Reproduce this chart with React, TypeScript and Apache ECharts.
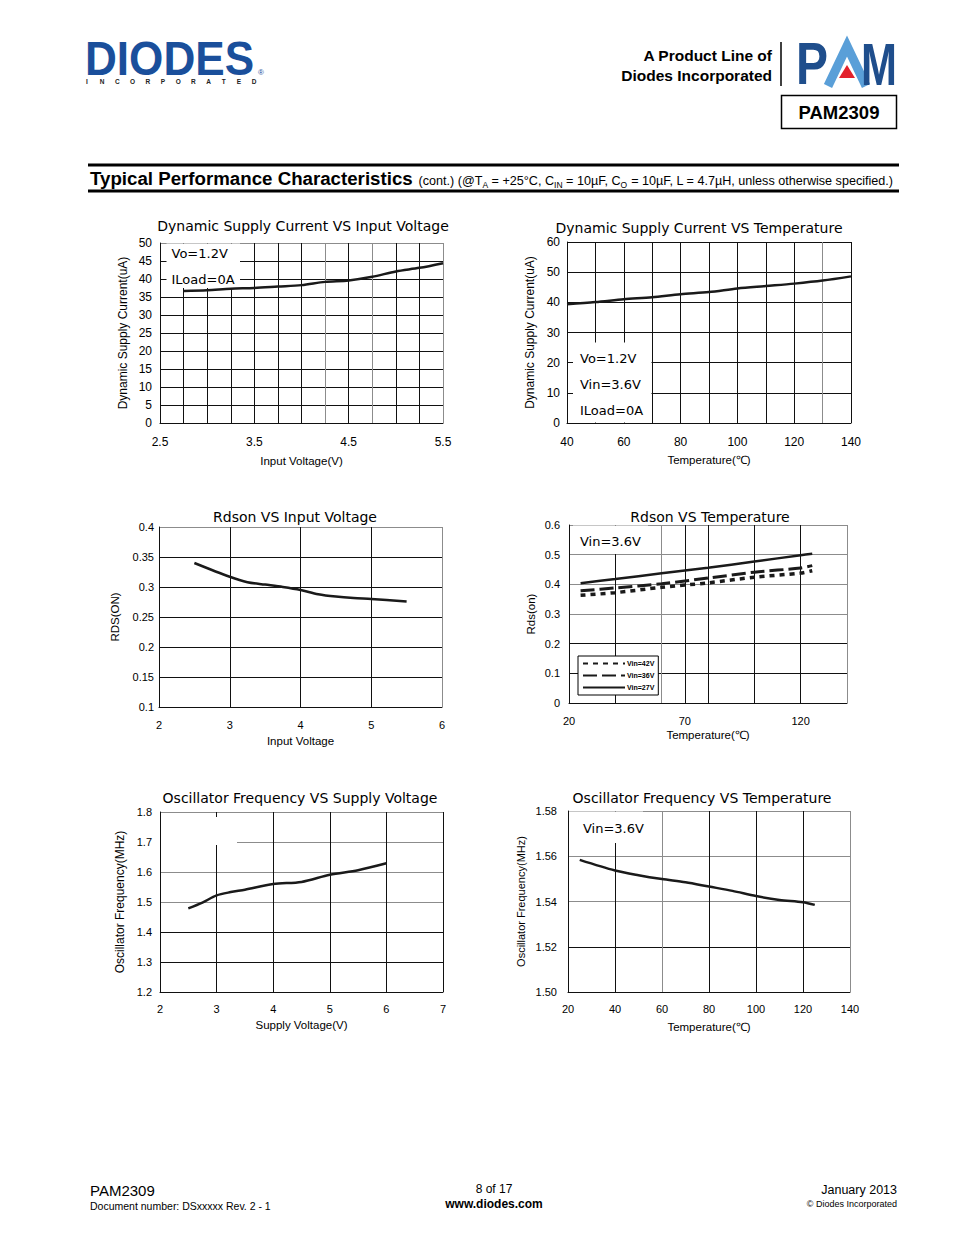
import React, { useEffect, useRef } from 'react';
import * as echarts from 'echarts';

// ---------- data ----------
// Chart 1: Dynamic Supply Current VS Input Voltage
const vinV = [2.75, 3.0, 3.25, 3.5, 3.75, 4.0, 4.25, 4.5, 4.75, 5.0, 5.25, 5.5];
const iqVin = [36.7, 36.9, 37.3, 37.5, 37.9, 38.3, 39.2, 39.6, 40.6, 42.1, 43.1, 44.4];
// Chart 2: Dynamic Supply Current VS Temperature
const tempA = [40, 50, 60, 70, 80, 90, 100, 110, 120, 130, 140];
const iqTemp = [39.4, 40.1, 41.0, 41.7, 42.7, 43.4, 44.6, 45.4, 46.2, 47.2, 48.6];
// Chart 3: Rdson VS Input Voltage
const rdsVin = [2.5, 3.0, 3.25, 3.5, 3.75, 4.0, 4.25, 4.5, 4.75, 5.0, 5.5];
const rdsVinVals = [0.34, 0.317, 0.308, 0.304, 0.3, 0.295, 0.288, 0.284, 0.2815, 0.28, 0.276];
// Chart 4: Rdson VS Temperature
const tempB = [25, 40, 60, 80, 100, 120, 125];
const rds42 = [0.363, 0.372, 0.39, 0.405, 0.424, 0.438, 0.446];
const rds36 = [0.378, 0.388, 0.402, 0.421, 0.441, 0.455, 0.463];
const rds27 = [0.404, 0.418, 0.437, 0.456, 0.477, 0.498, 0.503];
const legendNames = ['Vin=42V', 'Vin=36V', 'Vin=27V'];
// Chart 5: Oscillator Frequency VS Supply Voltage
const oscV = [2.5, 2.75, 3.0, 3.25, 3.5, 4.0, 4.5, 5.0, 5.5, 6.0];
const oscFreqV = [1.479, 1.498, 1.522, 1.533, 1.541, 1.56, 1.567, 1.591, 1.606, 1.629];
// Chart 6: Oscillator Frequency VS Temperature
const tempC = [25, 40, 50, 60, 70, 80, 90, 100, 110, 120, 125];
const oscFreqT = [1.5584, 1.5537, 1.5516, 1.5499, 1.5485, 1.5466, 1.5447, 1.5424, 1.5407, 1.5397, 1.5385];

const titles = [
  'Dynamic Supply Current VS Input Voltage',
  'Dynamic Supply Current VS Temperature',
  'Rdson VS Input Voltage',
  'Rdson VS Temperature',
  'Oscillator Frequency VS Supply Voltage',
  'Oscillator Frequency VS Temperature',
];

// ---------- styles ----------
const ff = '"Liberation Sans", Arial, sans-serif';
const tf = '"DejaVu Sans", sans-serif';
const B = '#111';
const G = '#8c8c8c';
const CURVE = '#1a1a1a';

const pair = (xs: number[], ys: number[]) => xs.map((x, i) => [x, ys[i]]);

function xAx(o: any) {
  return {
    type: 'value',
    gridIndex: o.grid,
    min: o.min,
    max: o.max,
    interval: o.interval,
    name: o.name,
    nameLocation: 'middle',
    nameGap: o.nameGap,
    nameTextStyle: { fontFamily: ff, fontSize: 11.5, color: '#000' },
    axisLine: { show: o.line !== false, lineStyle: { color: B, width: 1 } },
    axisTick: { show: false },
    axisLabel: {
      show: o.labels !== false,
      margin: o.margin,
      fontFamily: ff,
      fontSize: o.fontSize || 11,
      color: '#000',
      formatter: o.fmt,
      showMinLabel: true,
      showMaxLabel: true,
    },
    splitLine: {
      show: !!o.colors,
      lineStyle: { color: o.colors || B, width: 1 },
    },
  };
}

function yAx(o: any) {
  return {
    type: 'value',
    gridIndex: o.grid,
    min: o.min,
    max: o.max,
    interval: o.interval,
    name: o.name,
    nameLocation: 'middle',
    nameGap: o.nameGap,
    nameTextStyle: { fontFamily: ff, fontSize: o.nameSize || 12, color: '#000' },
    axisLine: { show: true, lineStyle: { color: B, width: 1 } },
    axisTick: { show: false },
    axisLabel: {
      margin: o.margin,
      fontFamily: ff,
      fontSize: o.fontSize || 11,
      color: '#000',
      formatter: o.fmt,
      showMinLabel: true,
      showMaxLabel: true,
    },
    splitLine: { show: true, lineStyle: { color: o.colors, width: 1 } },
  };
}

function txt(x: number, y: number, text: string, font: string, align = 'left', fill = '#000', extra: any = {}) {
  return {
    type: 'text',
    x,
    y,
    z: 10,
    silent: true,
    ...extra,
    style: {
      text,
      font,
      fill,
      align,
      textAlign: align,
      verticalAlign: 'middle',
      textVerticalAlign: 'middle',
    },
  };
}

function whiteBox(x: number, y: number, w: number, h: number) {
  return { type: 'rect', z: 1, silent: true, shape: { x, y, width: w, height: h }, style: { fill: '#fff' } };
}

export default function App() {
  const ref = useRef<HTMLDivElement>(null);
  useEffect(() => {
    const chart = echarts.init(ref.current!, null, { renderer: 'svg' });

    const grids = [
      { left: 160, top: 243, width: 283, height: 180 },
      { left: 567, top: 242, width: 284, height: 181 },
      { left: 159, top: 527, width: 283, height: 180 },
      { left: 569, top: 525, width: 278, height: 178 },
      { left: 160, top: 812, width: 283, height: 180 },
      { left: 568, top: 811, width: 282, height: 181 },
    ];

    const xAxes = [
      xAx({ grid: 0, min: 2.5, max: 5.5, interval: 0.25, margin: 13, fontSize: 12, name: 'Input Voltage(V)', nameGap: 32,
        fmt: (v: number) => (Math.round((v - 2.5) * 4) % 4 === 0 ? String(+v.toFixed(2)) : ''),
        colors: [B, B, B, B, B, B, B, G, B, G, B, B, G] }),
      xAx({ grid: 1, min: 40, max: 140, interval: 10, margin: 13, fontSize: 12, name: 'Temperature(\u2103)', nameGap: 31,
        fmt: (v: number) => (Math.round(v) % 20 === 0 ? String(Math.round(v)) : ''),
        colors: [B, B, B, B, B, B, B, B, B, G, B] }),
      xAx({ grid: 2, min: 2, max: 6, interval: 1, margin: 12, name: 'Input Voltage', nameGap: 28,
        fmt: (v: number) => String(v), colors: [B, B, B, B, G] }),
      xAx({ grid: 3, min: 20, max: 140, interval: 10, margin: 12, name: 'Temperature(\u2103)', nameGap: 26,
        fmt: (v: number) => ([20, 70, 120].indexOf(Math.round(v)) >= 0 ? String(Math.round(v)) : '') }),
      xAx({ grid: 4, min: 2, max: 7, interval: 1, margin: 11, name: 'Supply Voltage(V)', nameGap: 27,
        fmt: (v: number) => String(v), colors: [B, B, B, B, B, B] }),
      xAx({ grid: 5, min: 20, max: 140, interval: 20, margin: 11, name: 'Temperature(\u2103)', nameGap: 29,
        fmt: (v: number) => String(v), colors: [B, B, G, B, B, B, G] }),
      // extra axis for the grid lines of chart 4
      xAx({ grid: 3, min: 20, max: 140, interval: 20, labels: false, line: false, colors: [B, B, G, B, B, B, G] }),
    ];

    const yAxes = [
      yAx({ grid: 0, min: 0, max: 50, interval: 5, margin: 8, fontSize: 12, name: 'Dynamic Supply Current(uA)', nameGap: 31,
        fmt: (v: number) => String(v), colors: [B, B, B, B, B, B, B, B, B, B, G] }),
      yAx({ grid: 1, min: 0, max: 60, interval: 10, margin: 7, fontSize: 12, name: 'Dynamic Supply Current(uA)', nameGap: 31,
        fmt: (v: number) => String(v), colors: [B, B, B, B, B, B, B] }),
      yAx({ grid: 2, min: 0.1, max: 0.4, interval: 0.05, margin: 5, name: 'RDS(ON)', nameGap: 38, nameSize: 11.5,
        fmt: (v: number) => String(+v.toFixed(2)), colors: [B, B, B, B, B, B, G] }),
      yAx({ grid: 3, min: 0, max: 0.6, interval: 0.1, margin: 9, name: 'Rds(on)', nameGap: 32, nameSize: 11.5,
        fmt: (v: number) => String(+v.toFixed(1)), colors: [B, B, B, G, G, G, G] }),
      yAx({ grid: 4, min: 1.2, max: 1.8, interval: 0.1, margin: 8, name: 'Oscillator Frequency(MHz)', nameGap: 34,
        fmt: (v: number) => v.toFixed(1), colors: [B, B, B, G, G, G, G] }),
      yAx({ grid: 5, min: 1.5, max: 1.58, interval: 0.02, margin: 11, name: 'Oscillator Frequency(MHz)', nameGap: 42, nameSize: 11,
        fmt: (v: number) => v.toFixed(2), colors: [B, B, G, G, G] }),
    ];

    const line = (name: string, xi: number, yi: number, data: number[][], ls: any, extra: any = {}) => ({
      type: 'line',
      name,
      xAxisIndex: xi,
      yAxisIndex: yi,
      data,
      symbol: 'none',
      showSymbol: false,
      smooth: 0.3,
      z: 3,
      lineStyle: { color: CURVE, width: 2.5, ...ls },
      itemStyle: { color: CURVE },
      ...extra,
    });

    const series = [
      line('iqVin', 0, 0, pair(vinV, iqVin), {}),
      line('iqTemp', 1, 1, pair(tempA, iqTemp), {}),
      line('rdsVin', 2, 2, pair(rdsVin, rdsVinVals), {}),
      line(legendNames[0], 3, 3, pair(tempB, rds42), { type: [5, 5], width: 3.5 }),
      line(legendNames[1], 3, 3, pair(tempB, rds36), { type: [14, 5], width: 3 }),
      line(legendNames[2], 3, 3, pair(tempB, rds27), { width: 2.5 }, {
        markLine: {
          silent: true,
          symbol: 'none',
          label: { show: false },
          z: 1,
          lineStyle: { color: B, type: 'solid', width: 1 },
          data: [{ xAxis: 70 }],
        },
      }),
      line('oscV', 4, 4, pair(oscV, oscFreqV), {}),
      line('oscT', 5, 5, pair(tempC, oscFreqT), {}),
    ];

    const titlePos = [
      [303, 226], [699, 228], [295, 517], [710, 517], [300, 798], [702, 798],
    ];

    const letters = 'INCORPORATED'.split('');

    const graphic: any[] = [
      // ----- header -----
      txt(85, 58, 'DIODES', 'bold 49px "Liberation Sans"', 'left', '#1a4f9b', { scaleX: 0.9 }),
      txt(258, 72, '\u00ae', '8px "Liberation Sans"', 'left', '#1a4f9b'),
      ...letters.map((c, i) => txt(87 + i * 15.2, 81, c, 'bold 6.5px "Liberation Sans"', 'center', '#222')),
      txt(772, 55, 'A Product Line of', 'bold 15.5px "Liberation Sans"', 'right'),
      txt(772, 75, 'Diodes Incorporated', 'bold 15.5px "Liberation Sans"', 'right'),
      { type: 'line', silent: true, shape: { x1: 781, y1: 42, x2: 781, y2: 86 }, style: { stroke: '#000', lineWidth: 1.5 } },
      txt(796, 64, 'P', 'bold 60px "Liberation Sans"', 'left', '#1f4e8c', { scaleX: 0.8 }),
      { type: 'polyline', silent: true, shape: { points: [[828, 86], [847, 46], [866, 86]] }, style: { stroke: '#5a9fd8', lineWidth: 9, fill: 'none', lineJoin: 'miter' } },
      { type: 'polygon', silent: true, shape: { points: [[839, 78], [847, 65], [855, 78]] }, style: { fill: '#e3202b' } },
      txt(861, 64, 'M', 'bold 60px "Liberation Sans"', 'left', '#1f4e8c', { scaleX: 0.72 }),
      { type: 'rect', silent: true, shape: { x: 781.5, y: 95.5, width: 115, height: 33 }, style: { fill: 'none', stroke: '#000', lineWidth: 1.5 } },
      txt(839, 112, 'PAM2309', 'bold 18.5px "Liberation Sans"', 'center'),
      // ----- section title -----
      { type: 'line', silent: true, shape: { x1: 88, y1: 165, x2: 899, y2: 165 }, style: { stroke: '#000', lineWidth: 3 } },
      { type: 'line', silent: true, shape: { x1: 88, y1: 191, x2: 899, y2: 191 }, style: { stroke: '#000', lineWidth: 3 } },
      txt(90, 178, 'Typical Performance Characteristics', 'bold 18.7px "Liberation Sans"', 'left'),
      {
        type: 'text', x: 893, y: 180, z: 10, silent: true,
        style: {
          text: '{m|(cont.) (@T}{s|A}{m| = +25\u00b0C, C}{s|IN}{m| = 10\u00b5F, C}{s|O}{m| = 10\u00b5F, L = 4.7\u00b5H, unless otherwise specified.)}',
          align: 'right', textAlign: 'right', verticalAlign: 'middle', textVerticalAlign: 'middle',
          rich: {
            m: { fontFamily: ff, fontSize: 12.6, fill: '#000', color: '#000', lineHeight: 15, verticalAlign: 'bottom' },
            s: { fontFamily: ff, fontSize: 8.5, fill: '#000', color: '#000', lineHeight: 11, verticalAlign: 'bottom', padding: [0, 0, -2, 0] },
          },
        },
      },
      // ----- chart titles -----
      ...titles.map((t, i) => txt(titlePos[i][0], titlePos[i][1], t, `14px ${tf}`, 'center')),
      // ----- annotation boxes -----
      whiteBox(166.5, 243.6, 73.5, 44.5),
      txt(171.5, 253.5, 'Vo=1.2V', `13px ${tf}`),
      txt(171.5, 279, 'ILoad=0A', `13px ${tf}`),
      whiteBox(573, 342.5, 78.5, 80),
      txt(580, 358.5, 'Vo=1.2V', `13px ${tf}`),
      txt(580, 384, 'Vin=3.6V', `13px ${tf}`),
      txt(580, 410, 'ILoad=0A', `13px ${tf}`),
      whiteBox(573, 525.6, 75, 28.5),
      txt(580, 541, 'Vin=3.6V', `13px ${tf}`),
      whiteBox(161, 817, 76, 28),
      whiteBox(569, 811.6, 74, 31.5),
      txt(583, 828, 'Vin=3.6V', `13px ${tf}`),
      // ----- footer -----
      txt(90, 1190, 'PAM2309', '15px "Liberation Sans"'),
      txt(90, 1206, 'Document number: DSxxxxx Rev. 2 - 1', '10.5px "Liberation Sans"'),
      txt(494, 1189, '8 of 17', '12px "Liberation Sans"', 'center'),
      txt(494, 1204, 'www.diodes.com', 'bold 12px "Liberation Sans"', 'center'),
      txt(897, 1190, 'January 2013', '12.5px "Liberation Sans"', 'right'),
      txt(897, 1204, '\u00a9 Diodes Incorporated', '9px "Liberation Sans"', 'right'),
    ];

    chart.setOption({
      animation: false,
      backgroundColor: '#fff',
      grid: grids,
      xAxis: xAxes,
      yAxis: yAxes,
      series,
      legend: {
        data: legendNames,
        orient: 'vertical',
        left: 578,
        top: 656,
        backgroundColor: '#fff',
        borderColor: '#000',
        borderWidth: 1,
        padding: [4, 4, 4, 4],
        itemGap: 5,
        itemWidth: 42,
        itemHeight: 8,
        z: 6,
        selectedMode: false,
        itemStyle: { opacity: 0 },
        textStyle: { fontFamily: ff, fontSize: 7, fontWeight: 'bold', color: '#000', padding: [0, 0, 0, -3] },
      },
      graphic,
    });
    return () => chart.dispose();
  }, []);
  return (
    <div
      ref={ref}
      style={{ position: 'absolute', left: 0, top: 0, width: 954, height: 1235, background: '#fff' }}
    />
  );
}
